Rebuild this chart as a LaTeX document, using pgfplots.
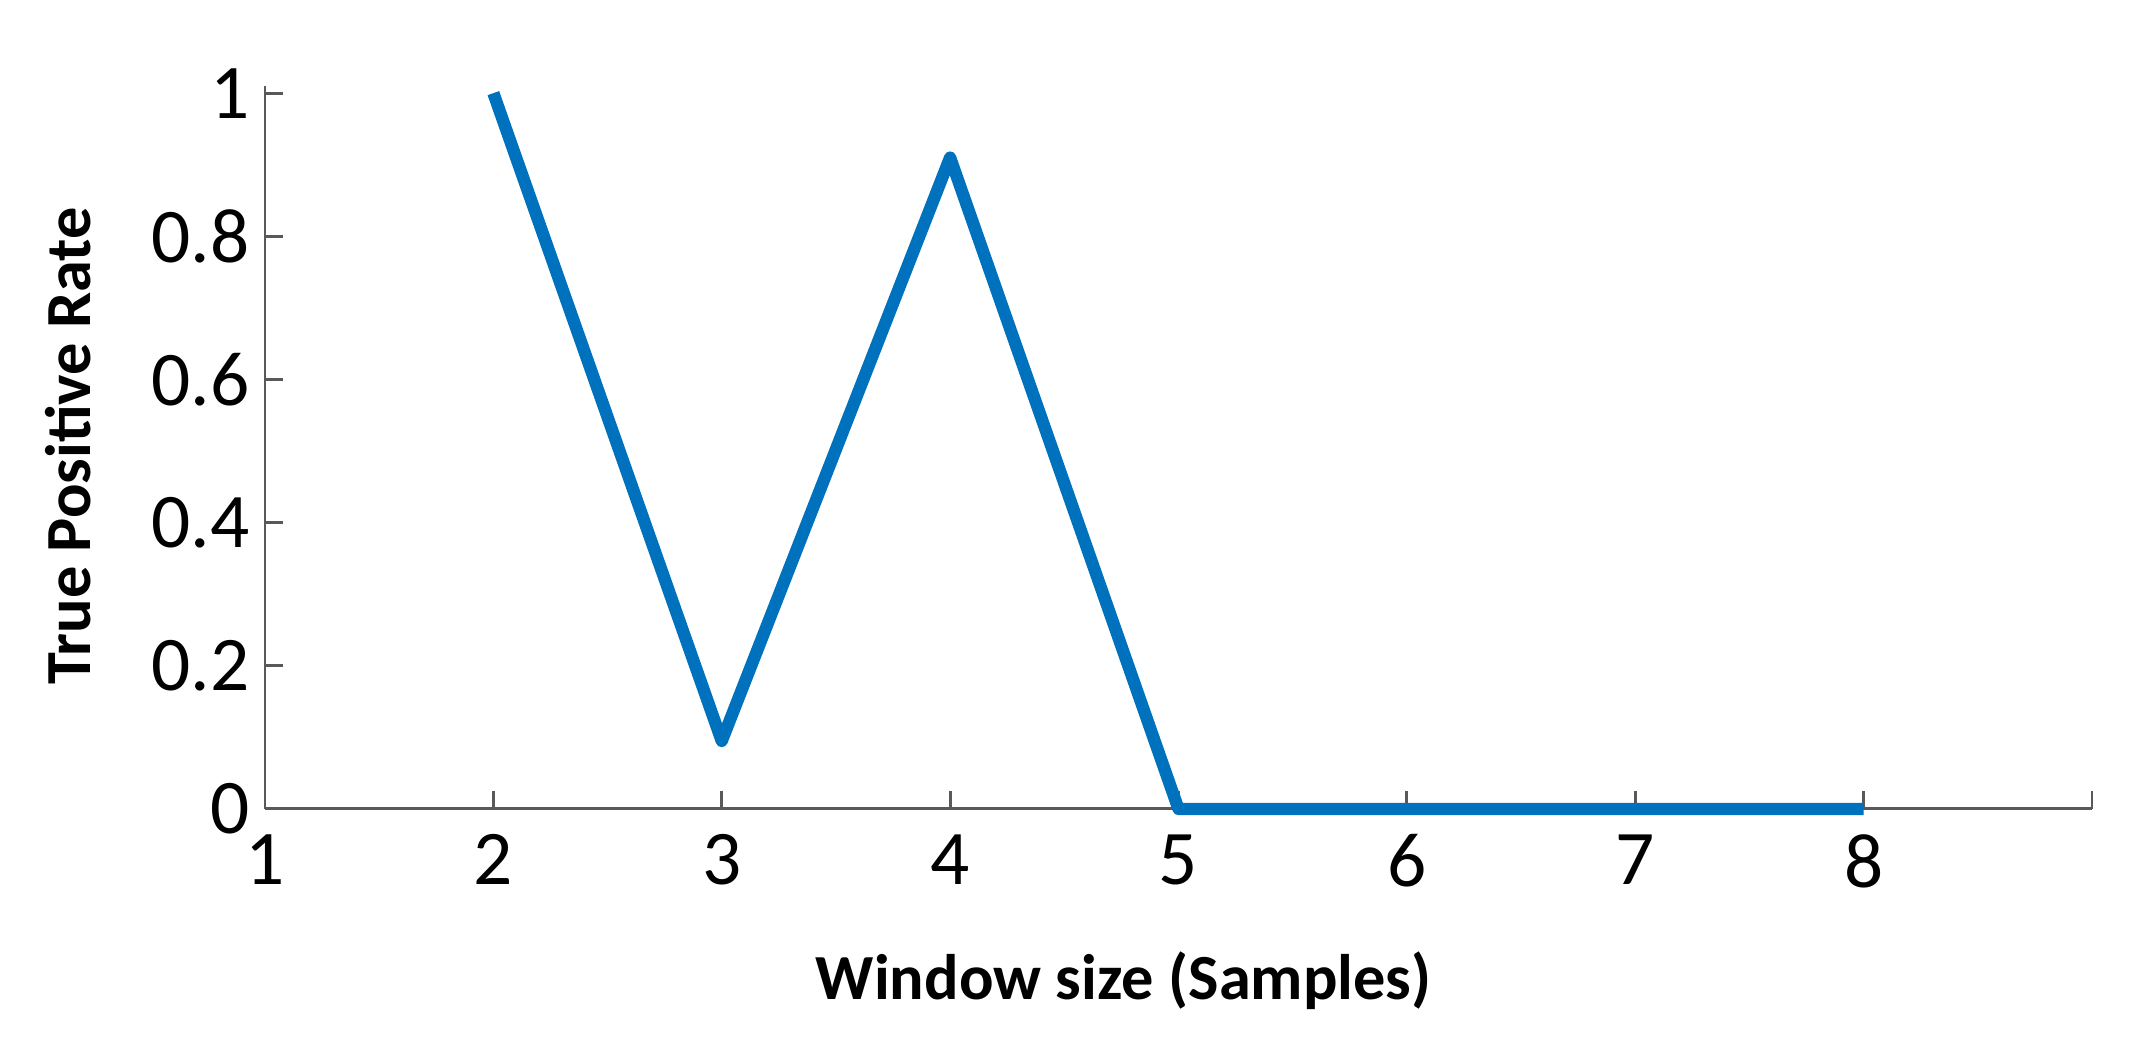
\documentclass[border=0pt]{standalone}
\usepackage{pgfplots}
\pgfplotsset{compat=1.18}
\usepackage{fontspec}
\setmainfont{Carlito}
\definecolor{mblue}{RGB}{0,114,189}
\begin{document}
\begin{tikzpicture}
\useasboundingbox (-26.5mm,-23.1mm) rectangle (188.6mm,80.9mm);
\begin{axis}[
	scale only axis,
	width=182.7mm, height=72.3mm,
	xmin=1, xmax=9, ymin=0, ymax=1.01,
	axis x line*=bottom, axis y line*=left,
	axis line style={-, draw=black!65, line width=0.85pt},
	tick style={draw=black!65, line width=0.85pt},
	tick align=inside, major tick length=1.8mm,
	xtick={1,2,3,4,5,6,7,8,9},
	xticklabels={1,2,3,4,5,6,7,8,{}},
	ytick={0,0.2,0.4,0.6,0.8,1},
	yticklabels={0,0.2,0.4,0.6,0.8,1},
	/pgf/number format/assume math mode=true,
	ticklabel style={font=\fontsize{22}{26}\selectfont},
	xticklabel style={yshift=-1.3mm},
	yticklabel style={xshift=-0.3mm},
	label style={font=\fontsize{18.3}{22}\selectfont\bfseries},
	xlabel={Window size (Samples)},
	ylabel={True Positive Rate},
	xlabel style={at={(axis description cs:0.47,-0.238)}, anchor=center},
	ylabel style={at={(axis description cs:-0.108,0.502)}, anchor=center},
	clip=false,
]
\addplot[color=mblue, line width=3.5pt, line join=round, line cap=butt]
	coordinates {(2,1) (3,0.095) (4,0.91) (5,0) (6,0) (7,0) (8,0)};
\end{axis}
\end{tikzpicture}
\end{document}
